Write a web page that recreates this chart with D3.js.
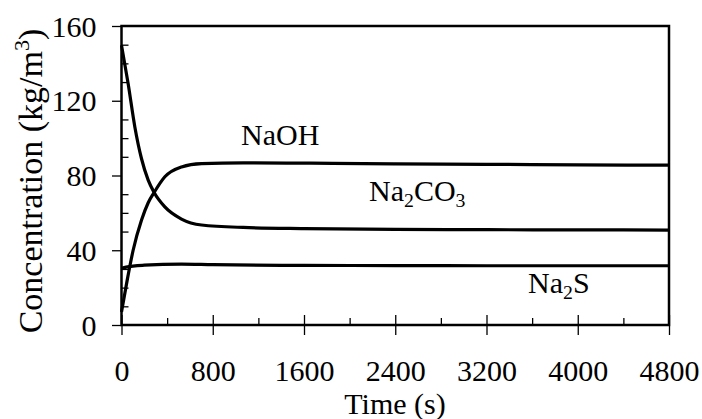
<!DOCTYPE html>
<html>
<head>
<meta charset="utf-8">
<script src="https://cdn.jsdelivr.net/npm/d3@7"></script>
<style>
  body { margin: 0; background: #fff; }
  svg { display: block; }
  svg text { font-family: "Liberation Serif", "Times New Roman", Times, serif; fill: #000; }
</style>
</head>
<body>
<svg id="chart" width="702" height="419"></svg>
<script>
// 시간 (s) 및 농도 데이터 (kg/m3) - 그림에서 읽은 값
const naohTime = [0, 50, 102, 175, 234, 286, 380, 526, 702, 1067, 1600, 2400, 3200, 4000, 4800];
const naohConc = [7, 24, 40, 56, 65.4, 70.9, 79.3, 84.6, 86.4, 86.8, 86.6, 86.2, 86, 85.7, 85.5];

const na2co3Time = [0, 58, 117, 175, 234, 286, 380, 526, 702, 1067, 1600, 2400, 3200, 4000, 4800];
const na2co3Conc = [149.7, 129.2, 106, 89.1, 77.5, 70.9, 63.2, 56.7, 53.5, 52.2, 51.6, 51.2, 51, 50.9, 50.8];

const na2sTime = [0, 40, 200, 525, 800, 1600, 2400, 3200, 4000, 4800];
const na2sConc = [30.3, 31, 32, 32.6, 32.3, 31.9, 31.8, 31.7, 31.7, 31.7];

const xTicks = [0, 800, 1600, 2400, 3200, 4000, 4800];
const yTicks = [0, 40, 80, 120, 160];

const margin = { top: 26, right: 33, bottom: 94, left: 121.5 };
const width = 702 - margin.left - margin.right;
const height = 419 - margin.top - margin.bottom;
const fontSize = 30;
const serif = '"Liberation Serif", "Times New Roman", Times, serif';

const svg = d3.select('#chart');
const g = svg.append('g').attr('transform', `translate(${margin.left},${margin.top})`);

const x = d3.scaleLinear().domain([0, 4800]).range([0, width]);
const y = d3.scaleLinear().domain([0, 160]).range([height, 0]);

// 보조 눈금 (안쪽)
g.append('g')
    .attr('transform', `translate(0,${height})`)
    .call(d3.axisBottom(x).tickValues(d3.range(400, 4800, 800)).tickSize(-7).tickFormat(''))
    .call(a => a.select('.domain').remove());
g.append('g')
    .call(d3.axisLeft(y).tickValues(d3.range(10, 160, 10).filter(v => v % 40)).tickSize(-7).tickFormat(''))
    .call(a => a.select('.domain').remove());
// 주 눈금 안쪽 (x 축)
g.append('g')
    .attr('transform', `translate(0,${height})`)
    .call(d3.axisBottom(x).tickValues(xTicks).tickSize(-10).tickFormat(''))
    .call(a => a.select('.domain').remove());

// 주 눈금 + 레이블
const xAxis = g.append('g')
    .attr('transform', `translate(0,${height})`)
    .call(d3.axisBottom(x).tickValues(xTicks).tickSize(10).tickFormat(d3.format('d')));
xAxis.attr('font-family', serif);
xAxis.select('.domain').remove();
xAxis.selectAll('text')
    .attr('font-size', fontSize)
    .attr('y', 56)
    .attr('dy', 0);

const yAxis = g.append('g')
    .call(d3.axisLeft(y).tickValues(yTicks).tickSize(9.5).tickFormat(d3.format('d')));
yAxis.attr('font-family', serif);
yAxis.select('.domain').remove();
yAxis.selectAll('text')
    .attr('font-size', fontSize)
    .attr('x', -25)
    .attr('dy', '0.34em');

g.selectAll('.tick line').attr('stroke', '#000').attr('stroke-width', 1.3);

// 테두리
g.append('rect')
    .attr('width', width)
    .attr('height', height)
    .attr('fill', 'none')
    .attr('stroke', '#000')
    .attr('stroke-width', 2.5);

// 곡선
const line = d3.line()
    .x(d => x(d[0]))
    .y(d => y(d[1]))
    .curve(d3.curveMonotoneX);

[[naohTime, naohConc], [na2co3Time, na2co3Conc], [na2sTime, na2sConc]].forEach(s => {
    g.append('path')
        .datum(d3.zip(s[0], s[1]))
        .attr('fill', 'none')
        .attr('stroke', '#000')
        .attr('stroke-width', 3.2)
        .attr('d', line);
});

// 시리즈 레이블 (아래첨자 포함)
function label(px, py, parts) {
    const t = svg.append('text')
        .attr('x', px)
        .attr('y', py)
        .attr('font-family', serif)
        .attr('font-size', fontSize);
    parts.forEach(p => {
        if (p.sub) {
            t.append('tspan').attr('font-size', fontSize * 0.66).attr('dy', 6).text(p.sub);
        } else {
            t.append('tspan').attr('dy', p.after ? -6 : 0).text(p.txt);
        }
    });
}
label(241, 145, [{ txt: 'NaOH' }]);
label(369, 201, [{ txt: 'Na' }, { sub: '2' }, { txt: 'CO', after: true }, { sub: '3' }]);
label(528, 293, [{ txt: 'Na' }, { sub: '2' }, { txt: 'S', after: true }]);

// 축 제목
svg.append('text')
    .attr('x', 395)
    .attr('y', 414)
    .attr('text-anchor', 'middle')
    .attr('font-family', serif)
    .attr('font-size', fontSize)
    .text('Time (s)');

const yTitle = svg.append('text')
    .attr('transform', `translate(42,${181}) rotate(-90)`)
    .attr('text-anchor', 'middle')
    .attr('font-family', serif)
    .attr('font-size', 34);
yTitle.append('tspan').text('Concentration (kg/m');
yTitle.append('tspan').attr('font-size', 22).attr('dy', -13).text('3');
yTitle.append('tspan').attr('dy', 13).text(')');
</script>
</body>
</html>
